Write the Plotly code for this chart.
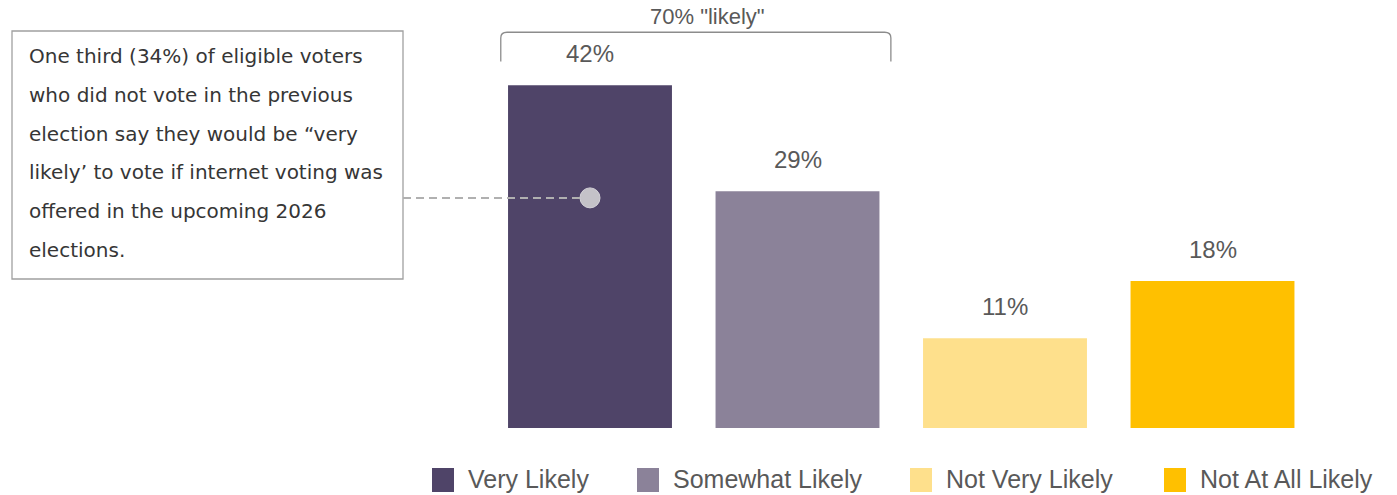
import plotly.graph_objects as go

# Survey responses: likelihood of voting if internet voting were offered
categories = ["Very Likely", "Somewhat Likely", "Not Very Likely", "Not At All Likely"]
values = [42, 29, 11, 18]
colors = ["#4f4468", "#8b8299", "#fee08c", "#ffc000"]
group_label = "70% \"likely\""

note_lines = [
    "One third (34%) of eligible voters",
    "who did not vote in the previous",
    "election say they would be “very",
    "likely’ to vote if internet voting was",
    "offered in the upcoming 2026",
    "elections.",
]

W, H = 1397, 495
BASE = 428          # pixel row of the bar baseline
Y_MAX = 52.45       # value at the top edge of the plot


def px(x):
    return x / W


def py(y):
    return (H - y) / H


fig = go.Figure()
fig.add_trace(go.Bar(
    x=list(range(len(categories))),
    y=values,
    marker=dict(color=colors, line=dict(width=0)),
    width=0.79,
    showlegend=False,
    hoverinfo="skip",
))

fig.update_layout(
    width=W, height=H,
    margin=dict(l=0, r=0, t=0, b=0),
    paper_bgcolor="white", plot_bgcolor="white",
    font=dict(family="Liberation Sans, Arial, sans-serif", color="#555555"),
    xaxis=dict(domain=[px(486.25), px(1316.25)], range=[-0.5, 3.5],
               visible=False, fixedrange=True),
    yaxis=dict(domain=[py(BASE), 1], range=[0, Y_MAX],
               visible=False, fixedrange=True),
)

annotations = []
shapes = []

# value labels above each bar
for i, v in enumerate(values):
    annotations.append(dict(
        x=i, y=v, xref="x", yref="y", text=f"{v}%", showarrow=False,
        yanchor="bottom", yshift=16,
        font=dict(size=24, color="#595959"),
    ))

# bracket grouping the two "likely" answers
bl, br, btop, bbot = -0.43, 1.45, 48.5, 44.9
r = 0.03
shapes.append(dict(
    type="path", xref="x", yref="y",
    path=(f"M {bl},{bbot} L {bl},{btop - 0.7} Q {bl},{btop} {bl + r},{btop} "
          f"L {br - r},{btop} Q {br},{btop} {br},{btop - 0.7} L {br},{bbot}"),
    line=dict(color="#8c8c8c", width=1.3),
))
annotations.append(dict(
    x=(bl + br) / 2, y=btop, xref="x", yref="y",
    text=group_label, showarrow=False,
    yanchor="bottom", yshift=1, xshift=12,
    font=dict(size=22, color="#595959"),
))

# callout box with its explanatory note
shapes.append(dict(
    type="rect", xref="paper", yref="paper",
    x0=px(12), x1=px(403), y0=py(279), y1=py(31),
    line=dict(color="#a0a0a0", width=1.3), fillcolor="rgba(0,0,0,0)",
))
for k, line in enumerate(note_lines):
    annotations.append(dict(
        x=px(27), y=py(56 + k * 38.8), xref="paper", yref="paper",
        text=line, showarrow=False, xanchor="left", yanchor="middle",
        font=dict(family="DejaVu Sans, sans-serif", size=20, color="#363636"),
    ))

# dashed leader from the callout to the first bar
dot_y = 28.2
shapes.append(dict(
    type="line", xref="paper", yref="y",
    x0=px(403), x1=px(584), y0=dot_y, y1=dot_y,
    line=dict(color="#b0b0b0", width=2, dash="8px,5px"),
))
fig.add_trace(go.Scatter(
    x=[0], y=[dot_y], mode="markers",
    marker=dict(size=20, color="#c4c2c8", line=dict(color="#d4d2d8", width=1)),
    showlegend=False, hoverinfo="skip",
))

# legend drawn as swatches with labels along the bottom
sw_x = [432, 637, 910, 1164]
for name, col, x0 in zip(categories, colors, sw_x):
    shapes.append(dict(
        type="rect", xref="paper", yref="paper",
        x0=px(x0), x1=px(x0 + 22), y0=py(492), y1=py(468),
        line=dict(width=0), fillcolor=col,
    ))
    annotations.append(dict(
        x=px(x0 + 34), y=py(479), xref="paper", yref="paper",
        text=name, showarrow=False, xanchor="left", yanchor="middle",
        font=dict(size=25, color="#595959"),
    ))

fig.update_layout(annotations=annotations, shapes=shapes)
fig.write_html("out.html")
